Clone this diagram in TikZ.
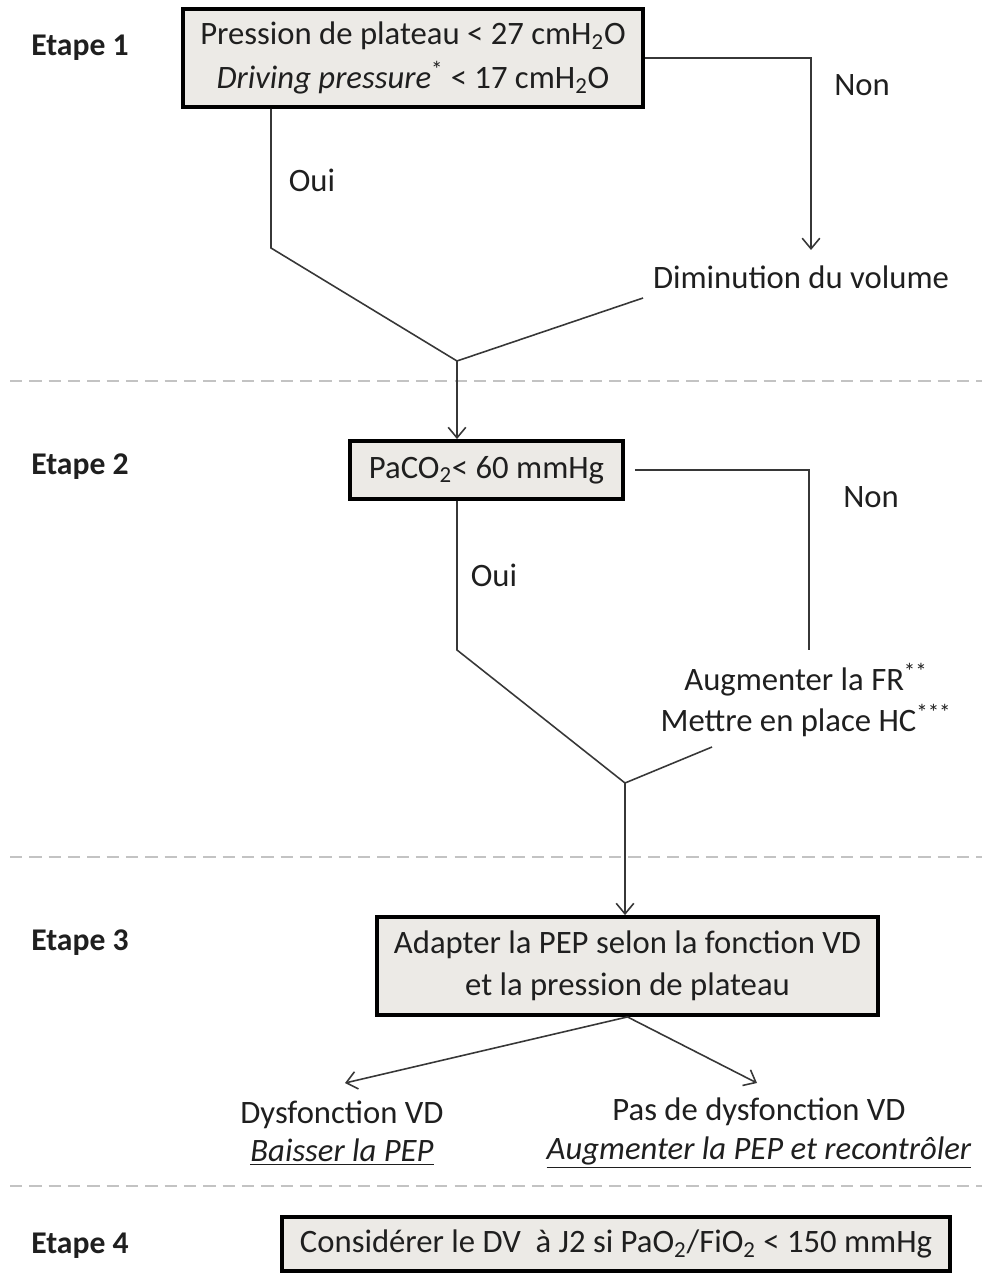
\documentclass[tikz,border=0pt]{standalone}
\usepackage{fontspec}
\setmainfont{Carlito}
\usepackage{xcolor}
\usetikzlibrary{arrows.meta}

\definecolor{boxfill}{RGB}{236,234,230}
\definecolor{linegray}{RGB}{55,55,55}
\definecolor{dashgray}{RGB}{195,195,195}

\tikzset{
  txt/.style={font=\fontsize{18.6}{24}\selectfont, text=black!88, align=center},
  etape/.style={txt, font=\fontsize{18}{24}\selectfont\bfseries},
  stepbox/.style={txt, draw=black, line width=2.2pt, fill=boxfill, inner sep=0pt},
  flow/.style={draw=linegray, line width=0.9pt},
  sep/.style={draw=dashgray, line width=0.9pt, dash pattern=on 7pt off 4pt},
  >={Straight Barb[length=6pt,width=10pt]}
}

\begin{document}
\begin{tikzpicture}[x=0.02cm,y=-0.02cm]
  \useasboundingbox (0,0) rectangle (982,1273);

% etapes
\node[etape] (etape1) at (80,48) {Etape 1};
\node[etape] (etape2) at (80,467) {Etape 2};
\node[etape] (etape3) at (80,943) {Etape 3};
\node[etape] (etape4) at (80,1246) {Etape 4};

\draw[sep] (10,381) -- (982,381);
\draw[sep] (10,857) -- (982,857);
\draw[sep] (10,1186) -- (982,1186);

% etape 1
\node[stepbox, minimum width=9.2cm, minimum height=1.96cm, font=\fontsize{18.6}{25}\selectfont] (box1) at (413,58)
  {Pression de plateau < 27 cmH\textsubscript{2}O\\\textit{Driving pressure}\textsuperscript{*} < 17 cmH\textsubscript{2}O};
\node[txt] (non1) at (862,85) {Non};
\node[txt] (oui1) at (312,180) {Oui};
\node[txt] (dim) at (801,277) {Diminution du volume};

\coordinate (k1) at (271,248);
\coordinate (m1) at (457,361);
\coordinate (d1) at (643,298);
\coordinate (n1) at (811,250);
\draw[flow,->] (box1.east) -| (n1);
\draw[flow] (box1.south -| k1) -- (k1) -- (m1) -- (d1);

% etape 2
\node[stepbox, minimum width=5.46cm, minimum height=1.16cm] (box2) at (486.5,470) {PaCO\textsubscript{2}< 60 mmHg};
\draw[flow,->] (m1) -- (m1 |- box2.north);
\node[txt] (non2) at (871,497) {Non};
\node[txt] (oui2) at (494,575) {Oui};
\node[txt, font=\fontsize{18.6}{23}\selectfont] (augm) at (806,700)
  {Augmenter la FR\textsuperscript{**}\\Mettre en place HC\textsuperscript{***}};

\coordinate (k2) at (809,650);
\coordinate (k3) at (457,650);
\coordinate (m2) at (625,783);
\coordinate (k4) at (712,747);
\draw[flow] ([xshift=0.2cm]box2.east) -| (k2);
\draw[flow] (box2.south -| k3) -- (k3) -- (m2) -- (k4);

% etape 3
\node[stepbox, minimum width=10.02cm, minimum height=1.96cm] (box3) at (627.5,966)
  {Adapter la PEP selon la fonction VD\\et la pression de plateau};
\draw[flow,->] (m2) -- (m2 |- box3.north);

\node[txt, font=\fontsize{18.6}{22}\selectfont] (dys) at (342,1133)
  {Dysfonction VD\\\underline{\textit{Baisser la PEP}}};
\node[txt, font=\fontsize{18.6}{22}\selectfont] (pasdys) at (759,1133)
  {Pas de dysfonction VD\\\underline{\textit{Augmenter la PEP et recontrôler}}};

\coordinate (t1) at (345,1083);
\coordinate (t2) at (757,1083);
\draw[flow,->] (box3.south) -- (t1);
\draw[flow,->] (box3.south) -- (t2);

% etape 4
\node[stepbox, minimum width=13.36cm, minimum height=1.08cm] (box4) at (616,1244)
  {Considérer le DV\ \ à J2 si PaO\textsubscript{2}/FiO\textsubscript{2} < 150 mmHg};

\end{tikzpicture}
\end{document}
